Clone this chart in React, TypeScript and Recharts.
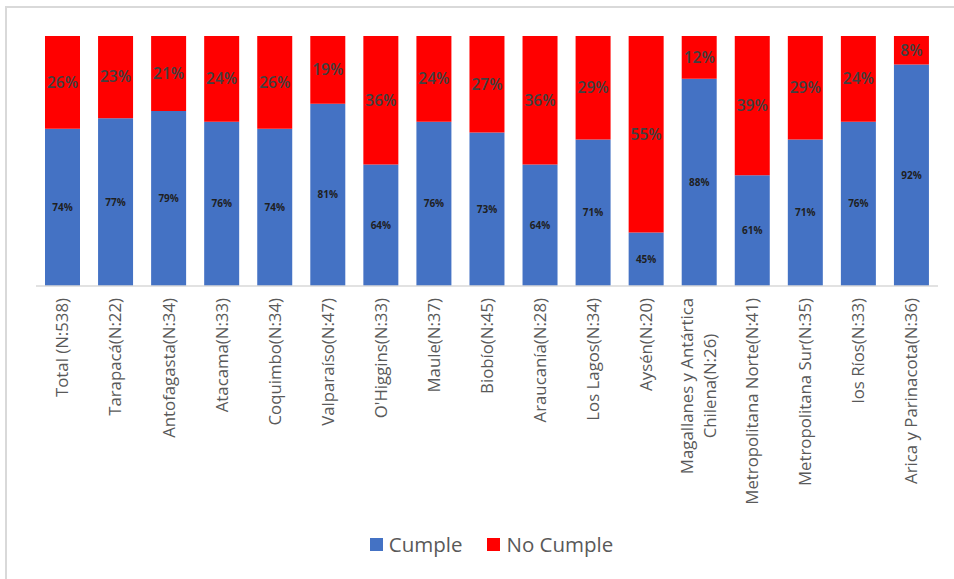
import { BarChart, Bar, XAxis, YAxis, LabelList } from 'recharts';

const categories = [
  'Total (N:538)',
  'Tarapacá(N:22)',
  'Antofagasta(N:34)',
  'Atacama(N:33)',
  'Coquimbo(N:34)',
  'Valparaíso(N:47)',
  "O'Higgins(N:33)",
  'Maule(N:37)',
  'Biobío(N:45)',
  'Araucanía(N:28)',
  'Los Lagos(N:34)',
  'Aysén(N:20)',
  'Magallanes y Antártica\nChilena(N:26)',
  'Metropolitana Norte(N:41)',
  'Metropolitana Sur(N:35)',
  'los Ríos(N:33)',
  'Arica y Parinacota(N:36)',
];
const cumple = [74, 77, 79, 76, 74, 81, 64, 76, 73, 64, 71, 45, 88, 61, 71, 76, 92];
const noCumple = [26, 23, 21, 24, 26, 19, 36, 24, 27, 36, 29, 55, 12, 39, 29, 24, 8];

const data = categories.map((name, i) => ({ name, cumple: cumple[i], noCumple: noCumple[i] }));

const W = 954;
const H = 579;
const MARGIN = { top: 36, right: 16, left: 36, bottom: 62 };
const XAXIS_H = 231;
const PLOT_BOTTOM = H - MARGIN.bottom - XAXIS_H;
const FONT = '"Open Sans", Lato, sans-serif';
const TICK_SIZE = 16.8;

let ctx: CanvasRenderingContext2D | null = null;
const measure = (t: string) => {
  if (!ctx) ctx = document.createElement('canvas').getContext('2d');
  if (!ctx) return t.length * 8;
  ctx.font = `${TICK_SIZE}px "Open Sans"`;
  return ctx.measureText(t).width;
};

const Tick = (props: any) => {
  const { x, y, payload } = props;
  const lines: string[] = String(payload.value).split('\n');
  const top = y + 4;
  if (lines.length === 1) {
    return (
      <text x={x} y={top} dy="0.35em" textAnchor="end" transform={`rotate(-90, ${x}, ${top})`}
        fill="#595959" fontSize={TICK_SIZE} fontFamily={FONT}>
        {lines[0]}
      </text>
    );
  }
  const maxLen = Math.max(...lines.map(measure));
  const cy = top + maxLen / 2;
  const lh = 23;
  return (
    <text transform={`rotate(-90, ${x}, ${cy})`} fill="#595959" fontSize={TICK_SIZE} fontFamily={FONT}>
      {lines.map((l, i) => (
        <tspan key={i} x={x} y={cy} dy={(i - (lines.length - 1) / 2) * lh + 5} textAnchor="middle">{l}</tspan>
      ))}
    </text>
  );
};

const BlueLabel = (props: any) => {
  const { x, y, width, height, value } = props;
  const bottom = Math.min(y + height, PLOT_BOTTOM);
  return (
    <text x={x + width / 2} y={(y + bottom) / 2} dy="0.35em" textAnchor="middle"
      fill="#1f1f1f" fontSize={10} fontWeight={700} fontFamily={FONT}>
      {value}%
    </text>
  );
};

const RedLabel = (props: any) => {
  const { x, y, width, height, value } = props;
  return (
    <text x={x + width / 2} y={y + height / 2} dy="0.35em" textAnchor="middle"
      fill="#404040" fontSize={15.5} fontWeight={600} fontFamily={FONT}>
      {value}%
    </text>
  );
};

const LegendBox = () => (
  <div style={{ position: 'absolute', top: 530, left: 0, width: W, display: 'flex', justifyContent: 'center',
    fontFamily: FONT, fontSize: 20.5, color: '#595959', paddingLeft: 29, boxSizing: 'border-box' }}>
    <span style={{ display: 'flex', alignItems: 'center', marginRight: 25 }}>
      <span style={{ width: 13, height: 13, background: '#4472C4', marginRight: 6 }} />Cumple
    </span>
    <span style={{ display: 'flex', alignItems: 'center' }}>
      <span style={{ width: 13, height: 13, background: '#FF0000', marginRight: 6 }} />No Cumple
    </span>
  </div>
);

const App = () => {
  return (
    <div style={{ position: 'fixed', top: 0, left: 0, width: W, height: H, overflow: 'hidden', background: '#fff' }}>
      <div style={{ position: 'absolute', left: 5, top: 6, width: 1000, height: 1000, border: '2px solid #d9d9d9' }} />
      <div style={{ position: 'absolute', left: 0, top: 0 }}>
        <BarChart width={W} height={H} data={data} margin={MARGIN} barSize={35}>
          <XAxis dataKey="name" interval={0} height={XAXIS_H} tick={<Tick />} tickLine={false}
            axisLine={{ stroke: '#d9d9d9', strokeWidth: 1.5 }} />
          <YAxis hide domain={[30, 100]} allowDataOverflow />
          <Bar dataKey="cumple" stackId="a" fill="#4472C4" isAnimationActive={false}>
            <LabelList dataKey="cumple" content={<BlueLabel />} />
          </Bar>
          <Bar dataKey="noCumple" stackId="a" fill="#FF0000" isAnimationActive={false}>
            <LabelList dataKey="noCumple" content={<RedLabel />} />
          </Bar>
        </BarChart>
      </div>
      <LegendBox />
    </div>
  );
};

export default App;
